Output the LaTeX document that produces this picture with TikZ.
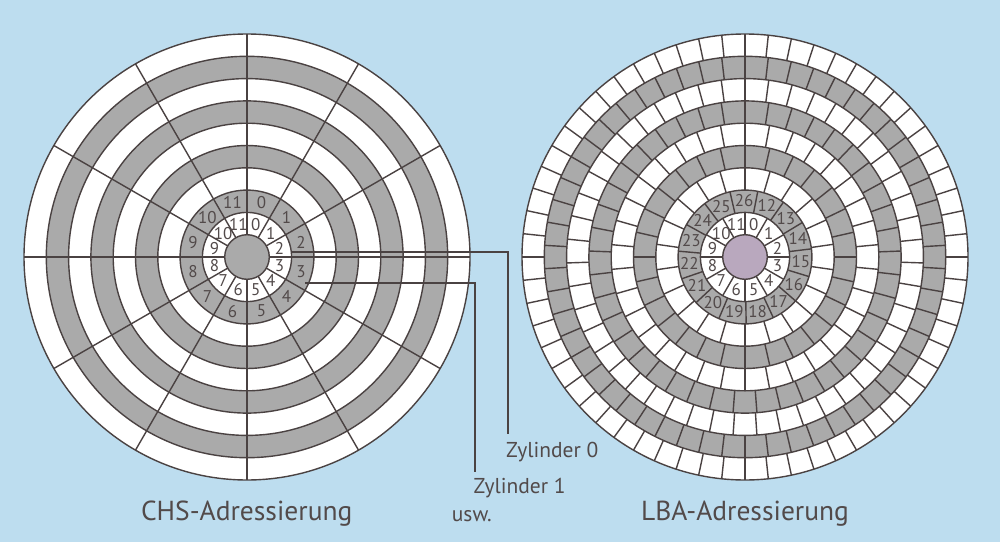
\documentclass[tikz,border=0pt]{standalone}
\usepackage{fontspec}
\setmainfont{PT Sans}
\definecolor{bg}{HTML}{BDDDEF}
\definecolor{cg}{HTML}{AAAAAA}
\definecolor{ln}{HTML}{4A4242}
\definecolor{tx}{HTML}{524A4A}
\definecolor{hub}{HTML}{B9A8BE}
\tikzset{
  lnc/.style={draw=ln, line width=1.4pt},
  num/.style={text=tx, font=\fontsize{17}{17}\selectfont, inner sep=0pt},
  title/.style={text=tx, font=\fontsize{27.5}{30}\selectfont, inner sep=0pt, anchor=base},
  lab/.style={text=tx, font=\fontsize{21.5}{22}\selectfont, inner sep=0pt, anchor=base west},
  conn/.style={draw=ln, line width=2.2pt},
}
\begin{document}
\begin{tikzpicture}[x=1pt,y=1pt]
\useasboundingbox (0,0) rectangle (1000,542);
\fill[bg] (0,0) rectangle (1000,542);
\def\rr{22.3}
% ---------- left disk (CHS)
\begin{scope}[shift={(247,285)}]
  \fill[white] (0,0) circle (223);
  \foreach \k in {2,4,6,8} {
    \fill[cg, even odd rule] (0,0) circle ({\rr*(\k+1)}) (0,0) circle ({\rr*\k});
  }
  \fill[cg] (0,0) circle (\rr);
  \foreach \a in {0,30,...,330} \draw[lnc] (\a:\rr) -- (\a:223);
  \foreach \k in {1,...,9} \draw[lnc] (0,0) circle ({\rr*\k});
  \draw[lnc] (0,0) circle (223);
  \foreach \i in {0,...,11} {
    \node[num] (la\i) at ({75-30*\i}:33.6) {\i};
    \node[num] (lb\i) at ({75-30*\i}:56) {\i};
  }
\end{scope}
% ---------- right disk (LBA)
\begin{scope}[shift={(745,285)}]
  \fill[white] (0,0) circle (223);
  \foreach \k in {2,4,6,8} {
    \fill[cg, even odd rule] (0,0) circle ({\rr*(\k+1)}) (0,0) circle ({\rr*\k});
  }
  \fill[hub] (0,0) circle (\rr);
  \foreach \k/\n/\s in {1/12/90, 2/15/79, 3/22/90, 4/28/90, 5/34/90, 6/41/90, 7/47/90, 8/54/90, 9/60/90} {
    \pgfmathsetmacro\st{360/\n}
    \foreach \j in {1,...,\n} {
      \draw[lnc] ({\s-\j*\st}:{\rr*\k}) -- ({\s-\j*\st}:{\rr*(\k+1)});
    }
  }
  \foreach \k in {1,...,9} \draw[lnc] (0,0) circle ({\rr*\k});
  \draw[lnc] (0,0) circle (223);
  \foreach \i in {0,...,11} {
    \node[num] (ra\i) at ({75-30*\i}:33.6) {\i};
  }
  \foreach \i in {0,...,14} {
    \pgfmathtruncatemacro\v{\i+12}
    \node[num] (rb\i) at ({67-24*\i}:56) {\v};
  }
\end{scope}
% ---------- connectors
\coordinate (c0s) at (292,290);
\coordinate (c0k) at (508,290);
\coordinate (c0e) at (508,108);
\coordinate (c1s) at (305,259);
\coordinate (c1k) at (475,259);
\coordinate (c1e) at (475,70);
\draw[conn] (c0s) -- (c0k) -- (c0e);
\draw[conn] (c1s) -- (c1k) -- (c1e);
% ---------- labels
\node[lab] (z0) at (506,84.7) {Zylinder 0};
\node[lab] (z1) at (473.3,48.7) {Zylinder 1};
\node[lab] (usw) at (451.7,20.3) {usw.};
\node[title] (chs) at (246.7,22) {CHS-Adressierung};
\node[title] (lba) at (745,22) {LBA-Adressierung};
\end{tikzpicture}
\end{document}
